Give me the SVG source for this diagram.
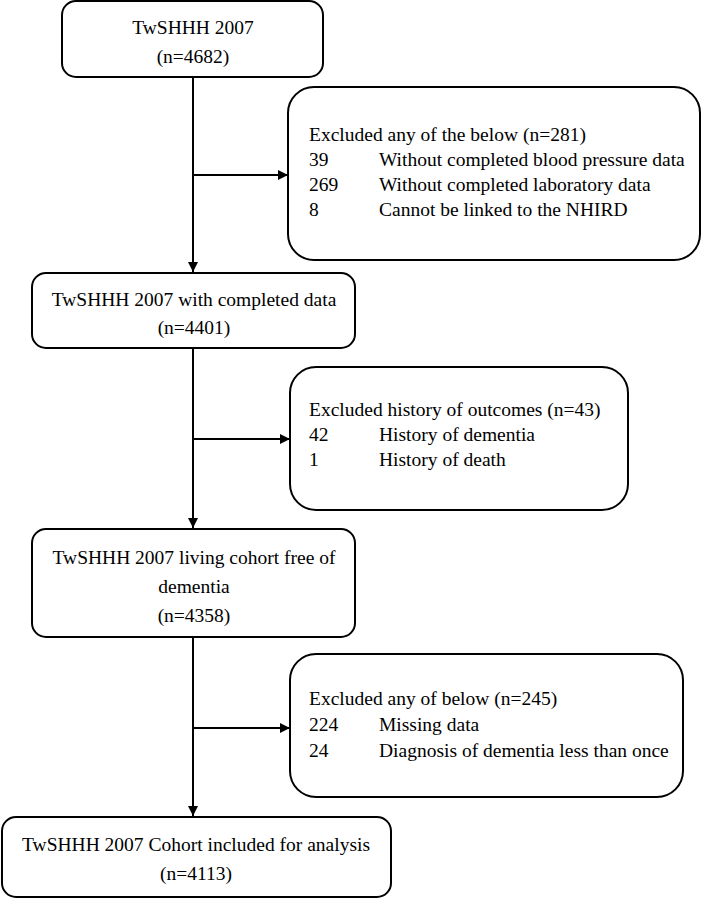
<svg xmlns="http://www.w3.org/2000/svg" width="710" height="899" viewBox="0 0 710 899">
<style>
.box{fill:#fff;stroke:#000;stroke-width:2}
.t{font-family:"Liberation Serif","Times New Roman",serif;font-size:19.5px;fill:#000}
.c{text-anchor:middle}
.ln{stroke:#000;stroke-width:2;fill:none}
</style>
<defs>
<marker id="ah" viewBox="0 0 10 10" refX="10" refY="5" markerWidth="10" markerHeight="10" markerUnits="userSpaceOnUse" orient="auto">
<path d="M0,0 L10,5 L0,10 z" fill="#000"/>
</marker>
</defs>
<g id="connectors">
<line class="ln" x1="193" y1="77" x2="193" y2="272" marker-end="url(#ah)"/>
<line class="ln" x1="193" y1="175" x2="288" y2="175" marker-end="url(#ah)"/>
<line class="ln" x1="193" y1="348" x2="193" y2="528" marker-end="url(#ah)"/>
<line class="ln" x1="193" y1="439" x2="290" y2="439" marker-end="url(#ah)"/>
<line class="ln" x1="193" y1="637" x2="193" y2="816" marker-end="url(#ah)"/>
<line class="ln" x1="193" y1="728" x2="290" y2="728" marker-end="url(#ah)"/>
</g>
<g id="n1">
<rect class="box" x="62" y="1" width="261" height="76" rx="14"/>
<text class="t c" x="193" y="34">TwSHHH 2007</text>
<text class="t c" x="193" y="63">(n=4682)</text>
</g>
<g id="e1">
<rect class="box" x="288" y="87" width="412" height="173" rx="26"/>
<text class="t" x="309" y="141">Excluded any of the below (n=281)</text>
<text class="t" x="309" y="166">39</text><text class="t" x="379" y="166">Without completed blood pressure data</text>
<text class="t" x="309" y="191">269</text><text class="t" x="379" y="191">Without completed laboratory data</text>
<text class="t" x="309" y="216">8</text><text class="t" x="379" y="216">Cannot be linked to the NHIRD</text>
</g>
<g id="n2">
<rect class="box" x="32" y="273" width="323" height="75" rx="14"/>
<text class="t c" x="194" y="306">TwSHHH 2007 with completed data</text>
<text class="t c" x="194" y="334">(n=4401)</text>
</g>
<g id="e2">
<rect class="box" x="290" y="367" width="338" height="143" rx="26"/>
<text class="t" x="309" y="416">Excluded history of outcomes (n=43)</text>
<text class="t" x="309" y="441">42</text><text class="t" x="379" y="441">History of dementia</text>
<text class="t" x="309" y="466">1</text><text class="t" x="379" y="466">History of death</text>
</g>
<g id="n3">
<rect class="box" x="32" y="529" width="323" height="108" rx="14"/>
<text class="t c" x="194" y="564">TwSHHH 2007 living cohort free of</text>
<text class="t c" x="194" y="593">dementia</text>
<text class="t c" x="194" y="622">(n=4358)</text>
</g>
<g id="e3">
<rect class="box" x="290" y="654" width="393" height="143" rx="26"/>
<text class="t" x="309" y="705">Excluded any of below (n=245)</text>
<text class="t" x="309" y="731">224</text><text class="t" x="379" y="731">Missing data</text>
<text class="t" x="309" y="757">24</text><text class="t" x="379" y="757">Diagnosis of dementia less than once</text>
</g>
<g id="n4">
<rect class="box" x="2" y="817" width="389" height="80" rx="14"/>
<text class="t c" x="196" y="851">TwSHHH 2007 Cohort included for analysis</text>
<text class="t c" x="196" y="880">(n=4113)</text>
</g>
</svg>
